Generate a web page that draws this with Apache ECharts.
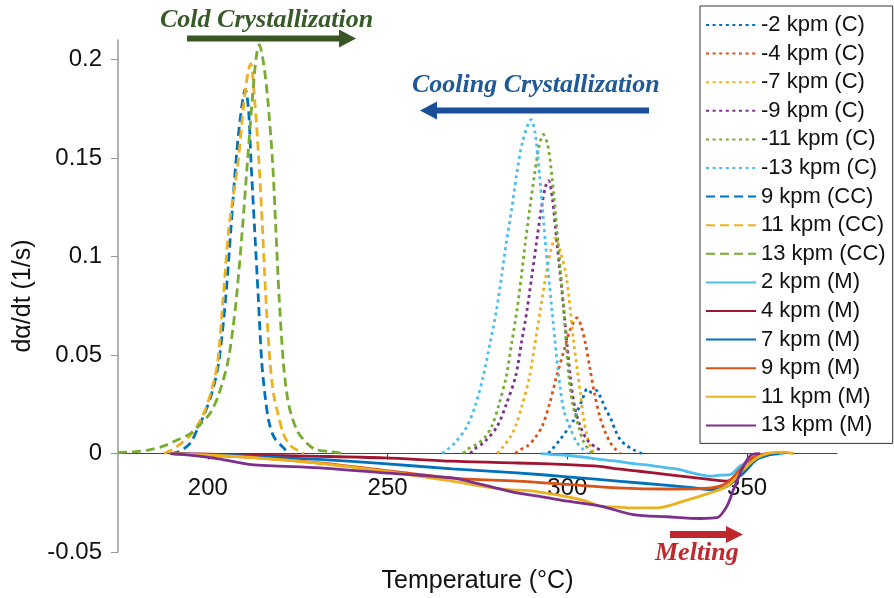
<!DOCTYPE html>
<html lang="en">
<head>
    <meta charset="UTF-8">
    <title>Crystallization and melting rates</title>
    <script src="https://cdn.jsdelivr.net/npm/echarts@6/dist/echarts.min.js"></script>
    <style>
        html, body { margin: 0; padding: 0; background: #fff; }
        #chart { width: 894px; height: 598px; }
    </style>
</head>
<body>
    <div id="chart"></div>
    <script>
        // tick values
        var xTicks = [200, 250, 300, 350];
        var yTicks = [-0.05, 0, 0.05, 0.1, 0.15, 0.2];

        // cooling crystallization (C), [temperature, rate]
        var c2 = [[294.7,0],[295.7,0.002],[297.9,0.0069],[299.9,0.0119],[301.8,0.0171],[302.9,0.022],[304.1,0.0271],[305.5,0.0328],[306.8,0.031],[308,0.032],[309.6,0.027],[310.8,0.022],[312,0.018],[313.3,0.012],[314.7,0.007],[316.5,0.004],[318.3,0.002],[320.7,0]];
        var c4 = [[285.5,0],[287,0.002],[289,0.004],[291,0.008],[293,0.0139],[295,0.025],[297,0.0392],[299,0.052],[300.8,0.063],[302.7,0.0689],[303.8,0.065],[305,0.0561],[306.3,0.043],[307.5,0.0308],[309,0.019],[310.5,0.011],[312,0.0054],[313.5,0.002],[314.7,0]];
        var c7 = [[280.5,0],[281.9,0.003],[284,0.008],[285.6,0.0139],[287.5,0.025],[289.5,0.0392],[291,0.056],[292.5,0.0731],[294,0.09],[295.5,0.104],[296.7,0.1095],[298,0.103],[299.7,0.09],[301.8,0.0562],[303.6,0.0308],[304.5,0.018],[305.5,0.0088],[306.5,0.003],[307.5,0]];
        var c9 = [[273,0],[273.9,0.002],[277,0.006],[280.5,0.0139],[283,0.025],[285.6,0.0392],[287.2,0.056],[288.8,0.0731],[290.1,0.09],[291.4,0.107],[292.8,0.125],[294,0.136],[294.8,0.1386],[295.8,0.13],[297.1,0.107],[299,0.0731],[300.8,0.0392],[302,0.024],[303.6,0.0139],[305.5,0.007],[308,0.003],[310,0.001]];
        var c11 = [[271,0],[272.1,0.002],[275,0.005],[277,0.008],[279,0.0139],[281,0.025],[283,0.0392],[284.5,0.056],[286,0.0731],[287.2,0.09],[288.3,0.107],[289.5,0.124],[290.8,0.1408],[292,0.155],[293.3,0.162],[294.5,0.157],[295.7,0.1408],[297.4,0.107],[299,0.0731],[300.4,0.0392],[301.5,0.025],[303.1,0.0139],[304.5,0.006],[306.4,0.001],[307,0]];
        var c13 = [[265.2,0],[266.6,0.002],[269,0.006],[272.1,0.0139],[274.5,0.025],[276.6,0.0392],[278.5,0.056],[280.3,0.0731],[281.7,0.09],[283,0.107],[284.5,0.124],[285.8,0.1408],[287.5,0.158],[289.9,0.1695],[291,0.163],[292.3,0.1408],[293.9,0.107],[295.7,0.0731],[297.6,0.0392],[299,0.022],[300.6,0.0139],[302.5,0.006],[304.4,0.002],[305.5,0]];

        // cold crystallization (CC)
        var cc9 = [[189.7,0],[192,0.001],[195,0.005],[197,0.012],[199,0.02],[201,0.03],[203,0.046],[205,0.08],[206.4,0.114],[207.8,0.148],[209,0.17],[210.4,0.185],[211.3,0.175],[212,0.148],[213,0.114],[214,0.08],[215,0.046],[216,0.028],[217,0.016],[218.5,0.008],[221,0.003],[222.5,0]];
        var cc11 = [[187.8,0],[190,0.002],[192.5,0.005],[195,0.009],[197,0.014],[199,0.021],[201,0.032],[202.7,0.046],[204.3,0.08],[205.8,0.114],[207,0.13],[208.4,0.148],[210,0.178],[211.2,0.194],[211.9,0.198],[213,0.18],[214.2,0.148],[215.2,0.114],[216.1,0.08],[217.3,0.046],[218.3,0.03],[219.4,0.021],[221,0.01],[223,0.004],[226.7,0]];
        var cc13 = [[175,0.0005],[180,0.001],[184,0.002],[188,0.004],[191.6,0.007],[195,0.01],[198,0.015],[200.8,0.021],[203,0.03],[205.5,0.046],[207,0.064],[208,0.08],[209.6,0.114],[211,0.148],[212.4,0.181],[213.5,0.202],[214.3,0.2076],[215.5,0.198],[216.6,0.181],[218,0.148],[218.9,0.114],[219.8,0.08],[221,0.046],[222,0.03],[223,0.021],[225,0.011],[227.7,0.005],[230,0.002],[234,0.001],[238,0]];

        // melting (M)
        var m2 = [[292.6,0],[296,-0.0005],[300,-0.001],[305,-0.002],[309,-0.003],[313.8,-0.0039],[318,-0.005],[323,-0.006],[327.7,-0.0073],[331,-0.008],[334,-0.0095],[337,-0.0108],[339.7,-0.0115],[342.5,-0.011],[345.3,-0.0107],[348,-0.0064],[352.7,-0.0022],[356.4,-0.0003],[360,0]];
        var m4 = [[189.6,0],[203,-0.0004],[212,-0.0008],[231,-0.0014],[249,-0.0022],[268,-0.0039],[286,-0.0048],[300,-0.0056],[309,-0.0065],[314,-0.0078],[320,-0.009],[328,-0.0107],[334,-0.012],[340,-0.0132],[344.4,-0.014],[349,-0.0081],[352.7,-0.002],[355.5,0]];
        var m7 = [[189.6,0],[203,-0.0008],[212,-0.0014],[231,-0.003],[249,-0.0051],[268,-0.0078],[286,-0.0098],[300,-0.0118],[314,-0.014],[328,-0.0162],[334,-0.0172],[340,-0.0183],[344.4,-0.0166],[349,-0.0098],[352.7,-0.003],[356.4,-0.0005],[359,0]];
        var m9 = [[189.6,0],[203,-0.0012],[212,-0.002],[231,-0.0048],[249,-0.0085],[268,-0.0125],[286,-0.014],[300,-0.0157],[314,-0.0174],[328,-0.018],[340,-0.0174],[344.4,-0.0149],[348,-0.0081],[350.8,-0.003],[353.6,-0.0005],[356,0]];
        var m11 = [[189.6,0],[203,-0.001],[212,-0.002],[231,-0.005],[249,-0.009],[268,-0.014],[276,-0.0165],[283.7,-0.0183],[290,-0.019],[300,-0.022],[305,-0.024],[309.2,-0.0267],[314,-0.0272],[318.3,-0.0276],[324.9,-0.0276],[332.3,-0.0242],[339.7,-0.02],[344.4,-0.0166],[349,-0.0081],[352.7,-0.0022],[356.4,0.0003],[360,0.0007],[362.8,0]];
        var m13 = [[189.6,0],[195,-0.0008],[203,-0.0027],[212,-0.0056],[231,-0.0073],[249,-0.0098],[268,-0.0124],[276,-0.0157],[286,-0.02],[293,-0.022],[300,-0.0242],[309.2,-0.0267],[318.3,-0.031],[327.7,-0.0321],[337,-0.033],[341.6,-0.0326],[344.4,-0.0267],[346.2,-0.0183],[349,-0.0064],[351.3,-0.0005],[353.6,0]];

        var BLUE = '#0072BD', RED = '#D95319', YEL = '#EDB120', PUR = '#7E2F8E',
            GRN = '#77AC30', CYAN = '#4DBEEE', WINE = '#A2142F';
        var DOT = [3, 3.6], DASH = [9, 5];

        function line(name, data, color, dash) {
            return {
                name: name,
                type: 'line',
                data: data,
                smooth: 0.3,
                symbol: 'none',
                showSymbol: false,
                color: color,
                lineStyle: { color: color, width: 2.8, type: dash, cap: 'butt' }
            };
        }

        var series = [
            line('-2 kpm (C)', c2, BLUE, DOT),
            line('-4 kpm (C)', c4, RED, DOT),
            line('-7 kpm (C)', c7, YEL, DOT),
            line('-9 kpm (C)', c9, PUR, DOT),
            line('-11 kpm (C)', c11, GRN, DOT),
            line('-13 kpm (C)', c13, CYAN, DOT),
            line('9 kpm (CC)', cc9, BLUE, DASH),
            line('11 kpm (CC)', cc11, YEL, DASH),
            line('13 kpm (CC)', cc13, GRN, DASH),
            line('2 kpm (M)', m2, CYAN, 'solid'),
            line('4 kpm (M)', m4, WINE, 'solid'),
            line('7 kpm (M)', m7, BLUE, 'solid'),
            line('9 kpm (M)', m9, RED, 'solid'),
            line('11 kpm (M)', m11, YEL, 'solid'),
            line('13 kpm (M)', m13, PUR, 'solid')
        ];

        // grid is 512px tall for 0.26 units; zero sits 0.05 above the bottom
        var yMin = -0.05, yMax = 0.21, gridH = 512;
        var zeroOffset = -gridH * (0 - yMin) / (yMax - yMin);

        var serif = '"Liberation Serif", "Times New Roman", serif';
        var myChart = echarts.init(document.getElementById('chart'));
        var option = {
            animation: false,
            textStyle: { fontFamily: '"Liberation Sans", Arial, sans-serif' },
            grid: { left: 118, right: 57, top: 40, bottom: 46, outerBoundsMode: 'none', containLabel: false },
            legend: {
                orient: 'vertical',
                left: 700,
                top: 6,
                padding: [8, 7, 7, 5],
                itemWidth: 50,
                itemHeight: 14,
                itemGap: 6.6,
                selectedMode: false,
                backgroundColor: '#fff',
                borderColor: '#333',
                borderWidth: 1,
                itemStyle: { opacity: 0 },
                textStyle: { fontSize: 22, color: '#111' },
                data: series.map(function (s) { return s.name; })
            },
            xAxis: {
                type: 'value',
                min: 175,
                max: 375,
                offset: zeroOffset,
                name: 'Temperature (°C)',
                nameLocation: 'middle',
                nameGap: 115,
                nameTextStyle: { fontSize: 25, color: '#111' },
                splitLine: { show: false },
                axisLine: { onZero: false, lineStyle: { color: '#444', width: 1 } },
                axisTick: { customValues: xTicks, length: 6, lineStyle: { color: '#444' } },
                axisLabel: { customValues: xTicks, fontSize: 24, color: '#111', margin: 23 }
            },
            yAxis: {
                type: 'value',
                min: yMin,
                max: yMax,
                name: 'd\u03B1/dt (1/s)',
                nameLocation: 'middle',
                nameGap: 82,
                nameTextStyle: { fontSize: 25, color: '#111' },
                splitLine: { show: false },
                axisLine: { show: true, onZero: false, lineStyle: { color: '#999', width: 1.5 } },
                axisTick: { show: true, customValues: yTicks, length: 7, lineStyle: { color: '#999' } },
                axisLabel: { customValues: yTicks, fontSize: 24, color: '#111', margin: 16 }
            },
            graphic: [
                { type: 'text', left: 160, top: 7, style: { text: 'Cold Crystallization', font: 'italic bold 26px ' + serif, fill: '#375a28' } },
                { type: 'polygon', shape: { points: [[187, 35.5], [339, 35.5], [339, 29.5], [356, 38.5], [339, 47.5], [339, 41.5], [187, 41.5]] }, style: { fill: '#375623' } },
                { type: 'text', left: 412, top: 72, style: { text: 'Cooling Crystallization', font: 'italic bold 26px ' + serif, fill: '#1f5a96' } },
                { type: 'polygon', shape: { points: [[649, 107.5], [437, 107.5], [437, 101.5], [420, 110.5], [437, 119.5], [437, 113.5], [649, 113.5]] }, style: { fill: '#1b4e98' } },
                { type: 'text', left: 655, top: 540, style: { text: 'Melting', font: 'italic bold 26px ' + serif, fill: '#c0282e' } },
                { type: 'polygon', shape: { points: [[670, 531], [726, 531], [726, 526], [743, 534.5], [726, 543], [726, 538], [670, 538]] }, style: { fill: '#c0262d' } }
            ],
            series: series
        };
        myChart.setOption(option);
    </script>
</body>
</html>
